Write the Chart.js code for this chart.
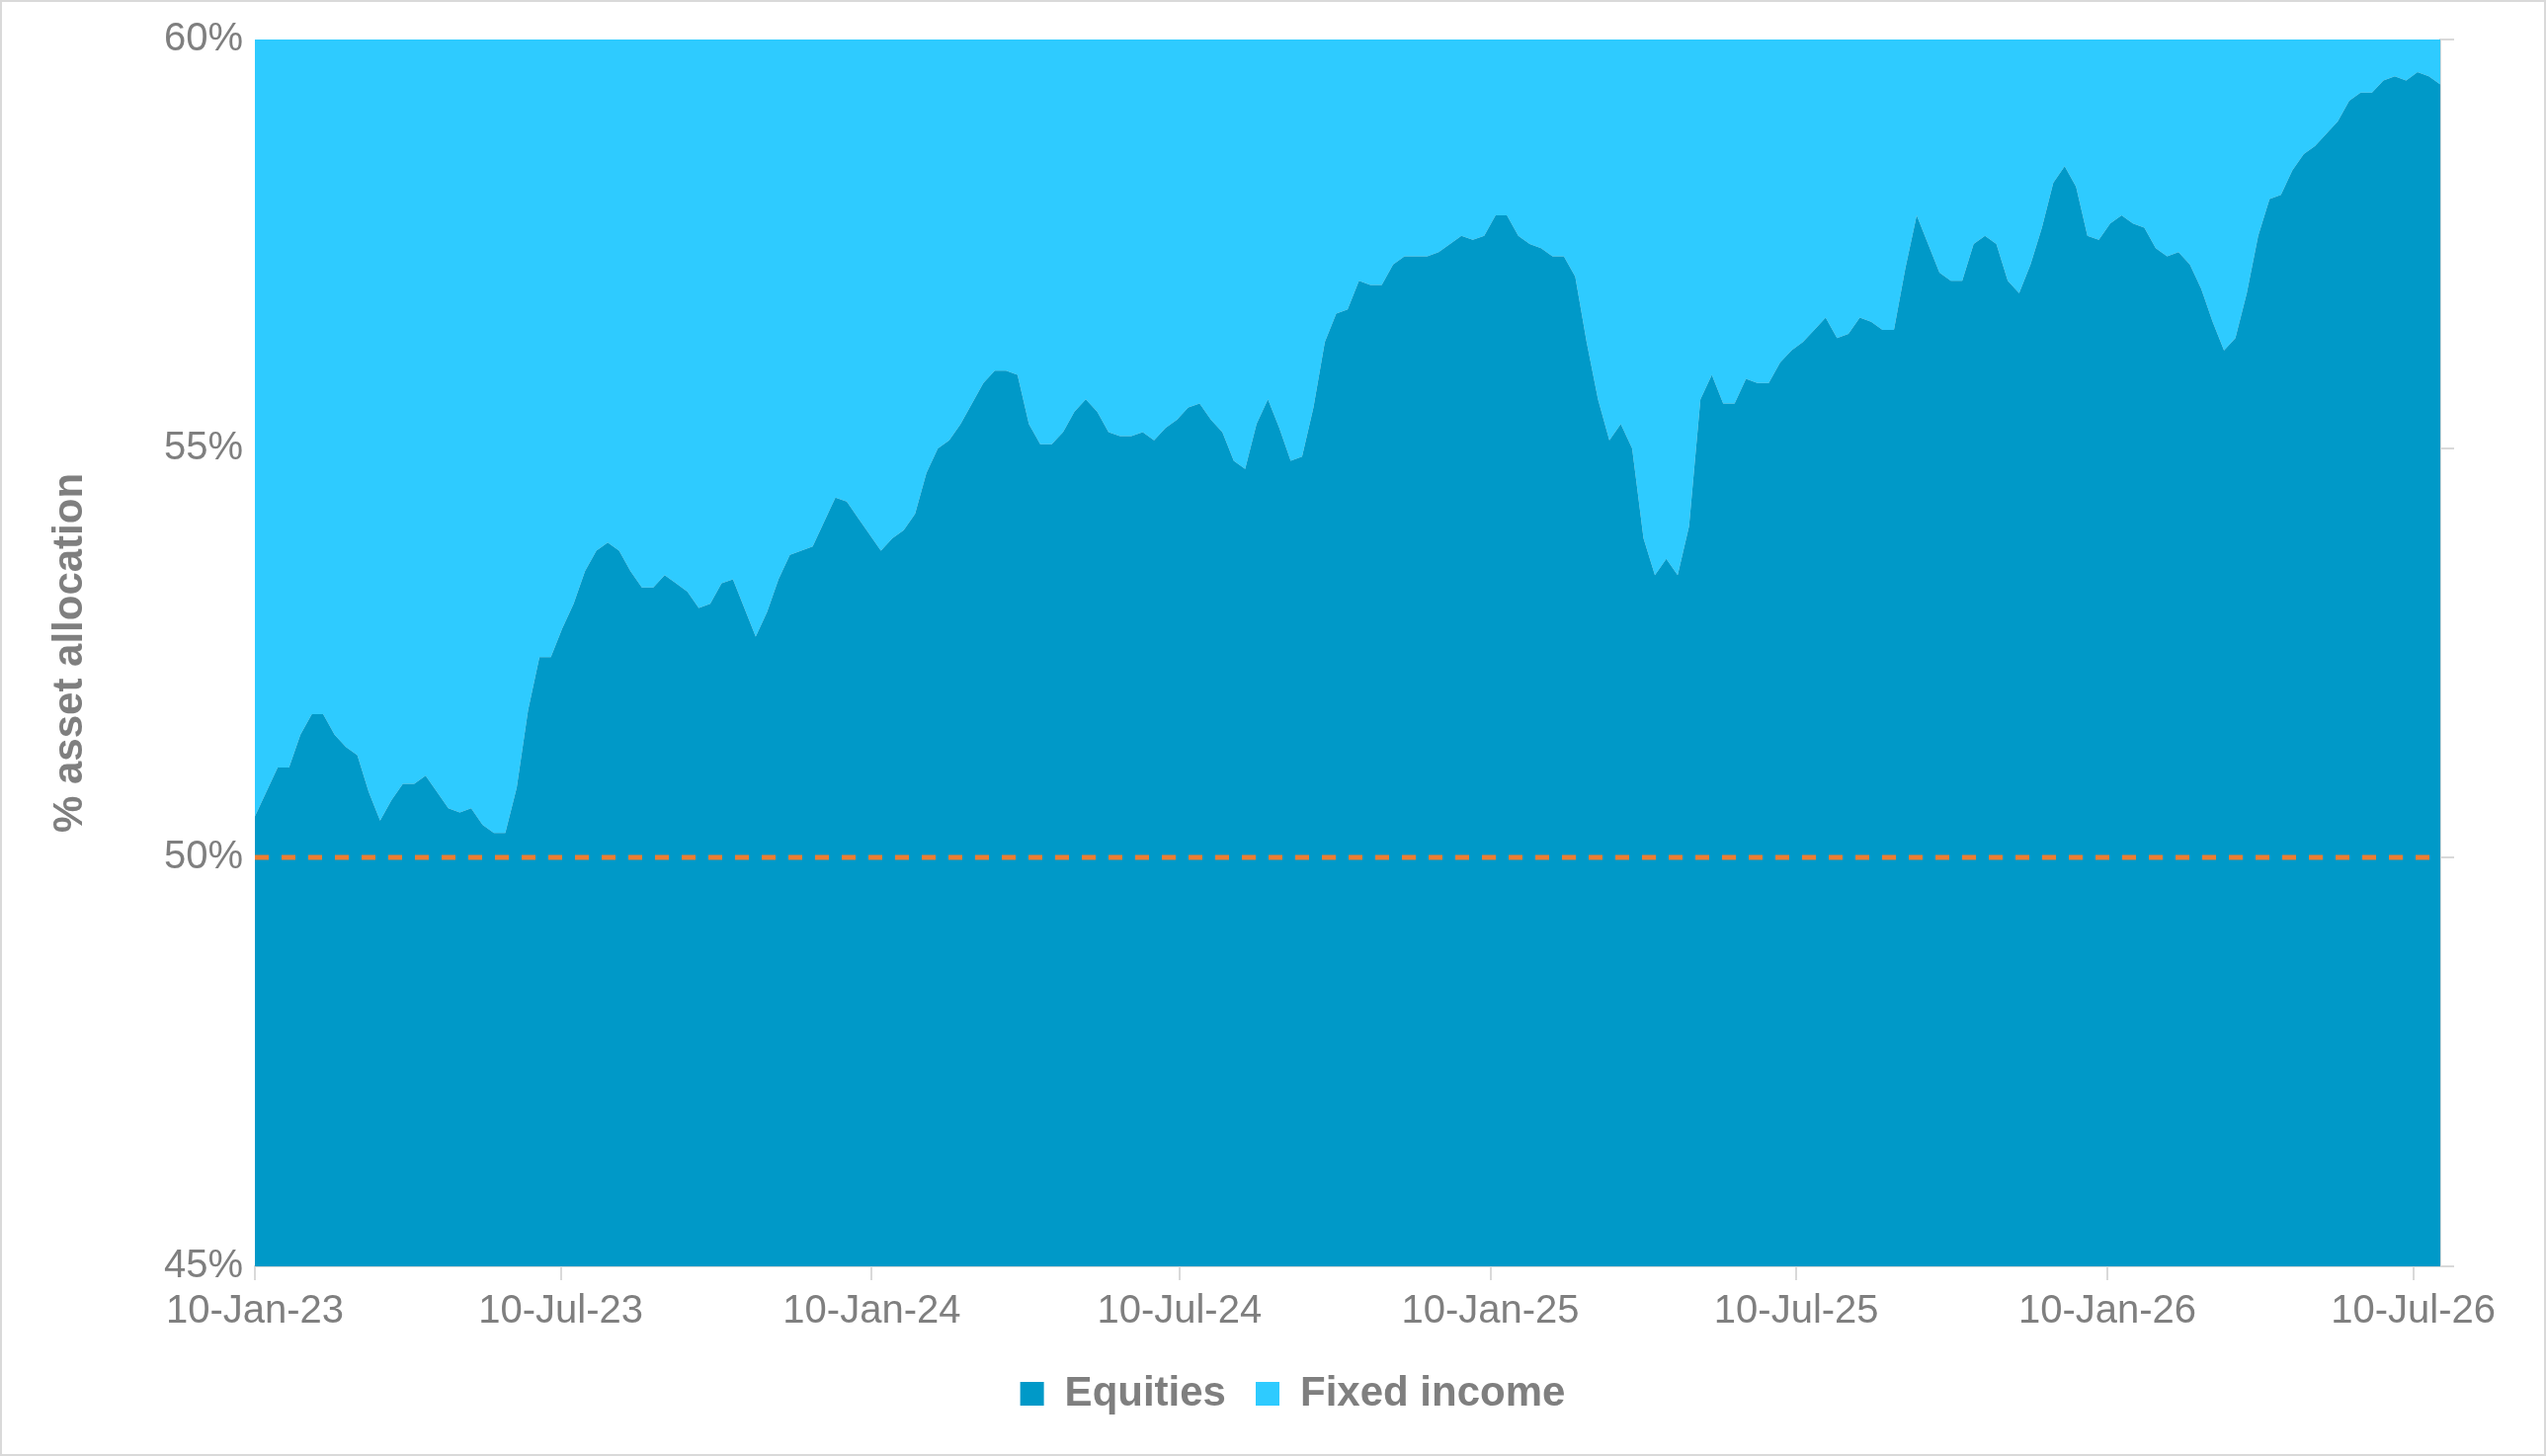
<!DOCTYPE html>
<html><head><meta charset="utf-8">
<script src="https://cdn.jsdelivr.net/npm/chart.js@4"></script>
<style>html,body{margin:0;padding:0;background:#fff}
#wrap{width:2577px;height:1474px;box-sizing:border-box;border:2px solid #d9d9d9}</style>
</head><body><div id="wrap"><canvas id="c"></canvas></div>
<script>
const equities=[50.5,50.8,51.1,51.1,51.5,51.75,51.75,51.5,51.35,51.25,50.8,50.45,50.7,50.9,50.9,51.0,50.8,50.6,50.55,50.6,50.4,50.3,50.3,50.85,51.8,52.45,52.45,52.8,53.1,53.5,53.75,53.85,53.75,53.5,53.3,53.3,53.45,53.35,53.25,53.05,53.1,53.35,53.4,53.05,52.7,53.0,53.4,53.7,53.75,53.8,54.1,54.4,54.35,54.15,53.95,53.75,53.9,54.0,54.2,54.7,55.0,55.1,55.3,55.55,55.8,55.95,55.95,55.9,55.3,55.05,55.05,55.2,55.45,55.6,55.45,55.2,55.15,55.15,55.2,55.1,55.25,55.35,55.5,55.55,55.35,55.2,54.85,54.75,55.3,55.6,55.25,54.85,54.9,55.5,56.3,56.65,56.7,57.05,57.0,57.0,57.25,57.35,57.35,57.35,57.4,57.5,57.6,57.55,57.6,57.85,57.85,57.6,57.5,57.45,57.35,57.35,57.1,56.3,55.6,55.1,55.3,55.0,53.9,53.45,53.65,53.45,54.05,55.6,55.9,55.55,55.55,55.85,55.8,55.8,56.05,56.2,56.3,56.45,56.6,56.35,56.4,56.6,56.55,56.45,56.45,57.2,57.85,57.5,57.15,57.05,57.05,57.5,57.6,57.5,57.05,56.9,57.25,57.7,58.25,58.45,58.2,57.6,57.55,57.75,57.85,57.75,57.7,57.45,57.35,57.4,57.25,56.95,56.55,56.2,56.35,56.9,57.6,58.05,58.1,58.4,58.6,58.7,58.85,59.0,59.25,59.35,59.35,59.5,59.55,59.5,59.6,59.55,59.45];
const lastDay=1293;
const tickDays=[0,181,365,547,731,912,1096,1277];
const tickLabels=['10-Jan-23','10-Jul-23','10-Jan-24','10-Jul-24','10-Jan-25','10-Jul-25','10-Jan-26','10-Jul-26'];
const yTicks=[45,50,55,60];
const days=equities.map((v,i)=>i*lastDay/(equities.length-1));
const eqPts=equities.map((v,i)=>({x:days[i],y:v}));
const fiPts=equities.map((v,i)=>({x:days[i],y:60}));
const refPts=[{x:0,y:50},{x:lastDay,y:50}];
const grey='#7f7f7f';
new Chart(document.getElementById('c'),{
 type:'line',
 data:{datasets:[
  {label:'Equities',data:eqPts,fill:'start',backgroundColor:'#0099c8',borderWidth:0,pointRadius:0,tension:0,order:2},
  {label:'Fixed income',data:fiPts,fill:'-1',backgroundColor:'#2ecbff',borderWidth:0,pointRadius:0,order:3},
  {label:'ref',data:refPts,borderColor:'#ed7d31',borderWidth:5,borderDash:[14,13],pointRadius:0,fill:false,order:1}
 ]},
 options:{responsive:true,maintainAspectRatio:false,animation:false,
  layout:{padding:{top:38,bottom:30,left:40,right:0}},
  plugins:{tooltip:{enabled:false},
   legend:{position:'bottom',labels:{filter:i=>i.text!=='ref',color:grey,boxWidth:24,boxHeight:24,padding:30,font:{family:'Liberation Sans',size:42,weight:'bold'}}}},
  scales:{
   x:{type:'linear',min:0,max:lastDay,
    afterBuildTicks:s=>{s.ticks=tickDays.map(v=>({value:v}));},
    ticks:{autoSkip:false,maxRotation:0,color:grey,padding:8,font:{family:'Liberation Sans',size:40},callback:(v)=>tickLabels[tickDays.indexOf(v)]},
    grid:{display:true,drawOnChartArea:false,tickLength:14,color:'#d9d9d9',lineWidth:2},
    border:{color:'#d9d9d9',width:2}},
   y:{min:45,max:60,
    afterBuildTicks:s=>{s.ticks=yTicks.map(v=>({value:v}));},
    afterFit:s=>{s.width=216;},
    ticks:{color:grey,padding:4,font:{family:'Liberation Sans',size:40},callback:v=>v+'%'},
    grid:{display:false},border:{display:false},
    title:{display:true,text:'% asset allocation',color:grey,font:{family:'Liberation Sans',size:42,weight:'bold'}}},
   y2:{position:'right',min:45,max:60,
    afterBuildTicks:s=>{s.ticks=yTicks.map(v=>({value:v}));},
    afterFit:s=>{s.width=105;},
    ticks:{display:false},
    grid:{drawOnChartArea:false,tickLength:14,color:'#d9d9d9',lineWidth:2},
    border:{color:'#d9d9d9',width:2}}
  }}
});
</script></body></html>
